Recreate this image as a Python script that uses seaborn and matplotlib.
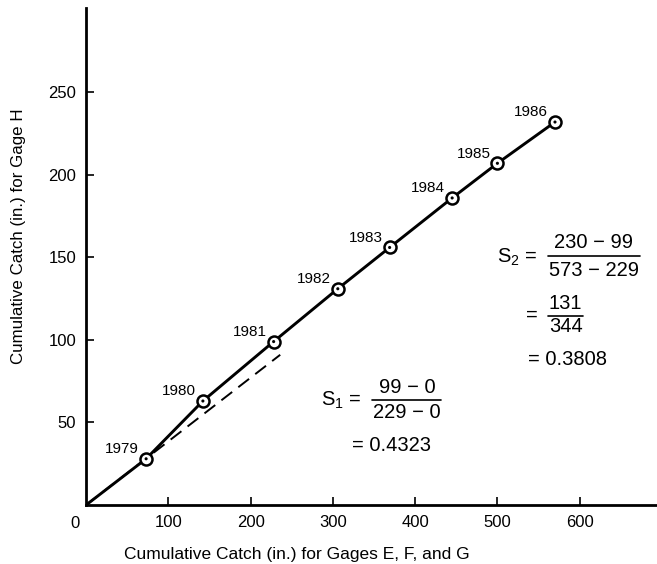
import seaborn as sns
import matplotlib.pyplot as plt
import pandas as pd

# data
years = ['1979', '1980', '1981', '1982', '1983', '1984', '1985', '1986']
catch_efg = [73, 142, 228, 306, 369, 445, 500, 570]
catch_h = [28, 63, 99, 131, 156, 186, 207, 232]
dashed_x = [0, 236]
dashed_y = [0, 91]
xticks = [100, 200, 300, 400, 500, 600]
yticks = [50, 100, 150, 200, 250]

df = pd.DataFrame({'year': years, 'efg': catch_efg, 'h': catch_h})
line_df = pd.DataFrame({'efg': [0] + catch_efg, 'h': [0] + catch_h})

sns.set_style('ticks', {'axes.edgecolor': 'black', 'text.color': 'black',
                        'xtick.color': 'black', 'ytick.color': 'black',
                        'axes.labelcolor': 'black'})
plt.rcParams['font.family'] = ['Liberation Sans', 'DejaVu Sans']
plt.rcParams['mathtext.fontset'] = 'custom'
plt.rcParams['mathtext.rm'] = 'Liberation Sans'

fig = plt.figure(figsize=(6.57, 5.64), dpi=100)
ax = fig.add_axes([0.131, 0.1046, 0.869, 0.881])

# main line through the yearly points
sns.lineplot(data=line_df, x='efg', y='h', color='black', linewidth=2.1,
             sort=False, ax=ax)
sns.scatterplot(data=df, x='efg', y='h', s=75, color='white',
                edgecolor='black', linewidth=1.8, zorder=3, ax=ax)
sns.scatterplot(data=df, x='efg', y='h', s=5, color='black',
                edgecolor='none', zorder=4, ax=ax)

# dashed reference line
ax.plot(dashed_x, dashed_y, color='black', linewidth=1.4,
        linestyle=(0, (7, 4)))

for yr, x, y in zip(years, catch_efg, catch_h):
    ax.annotate(yr, (x, y), xytext=(-5, 4), textcoords='offset points',
                fontsize=11, ha='right', va='baseline')

ax.set_xlim(0, 694)
ax.set_ylim(0, 301)
ax.set_xticks(xticks)
ax.set_yticks(yticks)
ax.tick_params(direction='in', length=6, width=1.2, labelsize=12, pad=7)
sns.despine(ax=ax)
for s in ['left', 'bottom']:
    ax.spines[s].set_linewidth(2)
ax.text(-0.012, -0.022, '0', transform=ax.transAxes, fontsize=12,
        ha='right', va='top')

ax.set_xlabel('Cumulative Catch (in.) for Gages E, F, and G', fontsize=12.5)
ax.set_ylabel('Cumulative Catch (in.) for Gage H', fontsize=12.2)
ax.xaxis.set_label_coords(0.37, -0.085)
ax.yaxis.set_label_coords(-0.105, 0.54)

# slope formulas
fs = 14.5
ax.text(548, 150, r'$\mathregular{S_2}$ =', fontsize=fs, ha='right', va='center')
ax.text(617, 159, '230 − 99', fontsize=fs, ha='center', va='center')
ax.plot([561, 673], [151, 151], color='black', linewidth=1.2)
ax.text(617, 142, '573 − 229', fontsize=fs, ha='center', va='center')
ax.text(549, 115, '=', fontsize=fs, ha='right', va='center')
ax.text(583, 122, '131', fontsize=fs, ha='center', va='center')
ax.plot([562, 604], [114.5, 114.5], color='black', linewidth=1.2)
ax.text(583, 108, '344', fontsize=fs, ha='center', va='center')
ax.text(537, 88, '= 0.3808', fontsize=fs, ha='left', va='center')

ax.text(335, 63.5, r'$\mathregular{S_1}$ =', fontsize=fs, ha='right', va='center')
ax.text(390, 71, '99 − 0', fontsize=fs, ha='center', va='center')
ax.plot([347, 432], [63.5, 63.5], color='black', linewidth=1.2)
ax.text(390, 56, '229 − 0', fontsize=fs, ha='center', va='center')
ax.text(323, 36, '= 0.4323', fontsize=fs, ha='left', va='center')

plt.savefig('out.png', dpi=100)
